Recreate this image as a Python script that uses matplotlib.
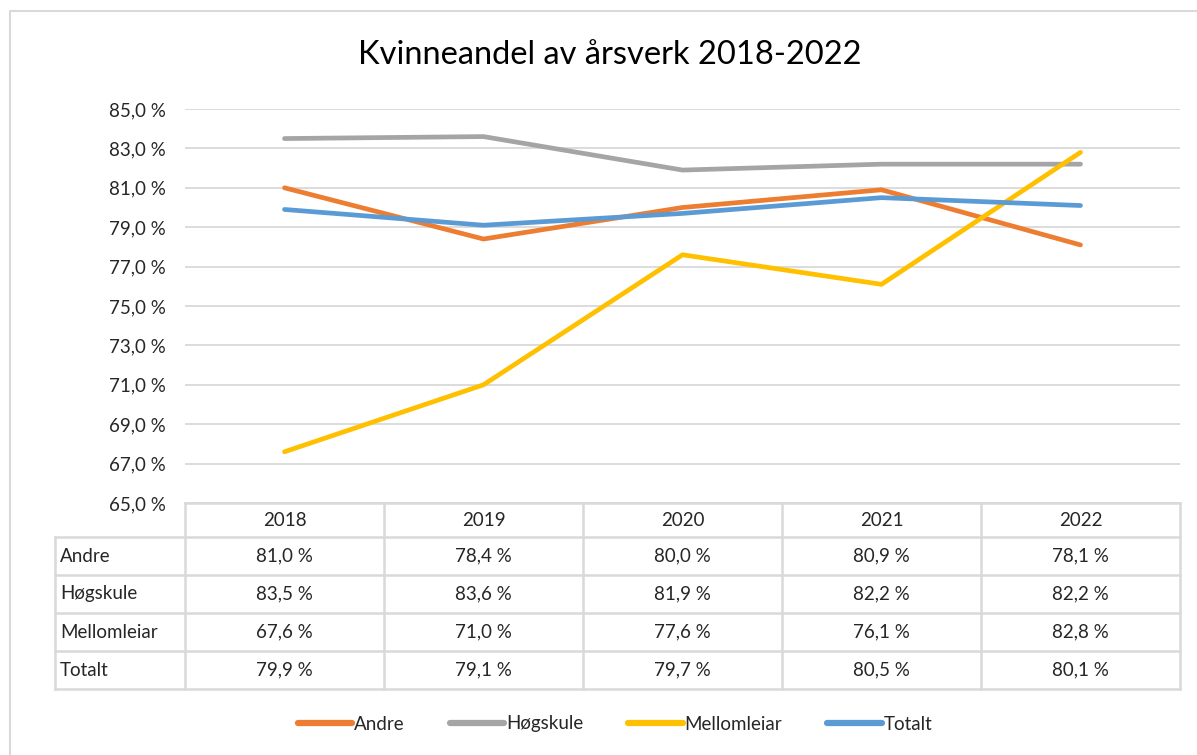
import matplotlib
matplotlib.use("Agg")
import matplotlib.pyplot as plt
from matplotlib.lines import Line2D

plt.rcParams["font.family"] = ["Lato", "DejaVu Sans"]

years = ["2018", "2019", "2020", "2021", "2022"]
andre = [81.0, 78.4, 80.0, 80.9, 78.1]
hogskule = [83.5, 83.6, 81.9, 82.2, 82.2]
mellomleiar = [67.6, 71.0, 77.6, 76.1, 82.8]
totalt = [79.9, 79.1, 79.7, 80.5, 80.1]
series_names = ["Andre", "Høgskule", "Mellomleiar", "Totalt"]
yticks = [65, 67, 69, 71, 73, 75, 77, 79, 81, 83, 85]

colors = ["#ED7D31", "#A5A5A5", "#FFC000", "#5B9BD5"]
grid_c = "#D9D9D9"
text_c = "#262626"
fs = 13.5

W, H = 1197, 755
fig = plt.figure(figsize=(W / 100, H / 100), dpi=100)

# pixel-coordinate overlay for frame, table, title
ov = fig.add_axes([0, 0, 1, 1])
ov.set_xlim(0, W)
ov.set_ylim(H, 0)
ov.axis("off")
ov.plot([10, 10, W], [H, 11, 11], color=grid_c, lw=1.5)

left, right, top, bottom = 185, 1180, 109, 503
ax = fig.add_axes([left / W, 1 - bottom / H, (right - left) / W, (bottom - top) / H])
ax.patch.set_alpha(0)
x = range(len(years))
all_series = [andre, hogskule, mellomleiar, totalt]
for vals, name, c in zip(all_series, series_names, colors):
    ax.plot(x, vals, color=c, lw=3.4, label=name, solid_capstyle="round")
ax.set_xlim(-0.5, len(years) - 0.5)
ax.set_ylim(65, 85)
ax.set_yticks(yticks)
ax.set_yticklabels([f"{v:.1f} %".replace(".", ",") for v in yticks],
                   fontsize=fs, color=text_c)
ax.set_xticks([])
ax.tick_params(axis="y", length=0, pad=14)
ax.grid(axis="y", color=grid_c, lw=1.3)
ax.set_axisbelow(True)
for s in ax.spines.values():
    s.set_visible(False)

ov.text(610, 55, "Kvinneandel av årsverk 2018-2022", ha="center", va="center",
        fontsize=23.5, color="#000000")

# data table
col_x = [185 + i * 199 for i in range(len(years) + 1)]
row_y = [503, 537, 575, 613, 651, 689]
lab_left = 55
lw_t = 1.8
ov.plot([col_x[0], col_x[-1]], [row_y[0], row_y[0]], color=grid_c, lw=lw_t)
for y in row_y[1:]:
    ov.plot([lab_left, col_x[-1]], [y, y], color=grid_c, lw=lw_t)
for cx in col_x:
    ov.plot([cx, cx], [row_y[0], row_y[-1]], color=grid_c, lw=lw_t)
ov.plot([lab_left, lab_left], [row_y[1], row_y[-1]], color=grid_c, lw=lw_t)
for i, yr in enumerate(years):
    ov.text((col_x[i] + col_x[i + 1]) / 2, (row_y[0] + row_y[1]) / 2 + 1, yr,
            ha="center", va="center", fontsize=fs, color=text_c)
for r, (name, vals) in enumerate(zip(series_names, all_series)):
    yc = (row_y[r + 1] + row_y[r + 2]) / 2
    ov.text(lab_left + 5, yc, name, ha="left", va="center", fontsize=fs, color=text_c)
    for i, v in enumerate(vals):
        ov.text((col_x[i] + col_x[i + 1]) / 2, yc, f"{v:.1f} %".replace(".", ","),
                ha="center", va="center", fontsize=fs, color=text_c)

handles = [Line2D([], [], color=c, lw=4.5, solid_capstyle="round") for c in colors]
fig.legend(handles, series_names, loc="center", bbox_to_anchor=(615 / W, 1 - 724 / H),
           ncol=4, frameon=False, fontsize=fs, handlelength=2.9, handletextpad=0.1,
           columnspacing=2.4, labelcolor=text_c)

fig.savefig("out.png", dpi=100)
